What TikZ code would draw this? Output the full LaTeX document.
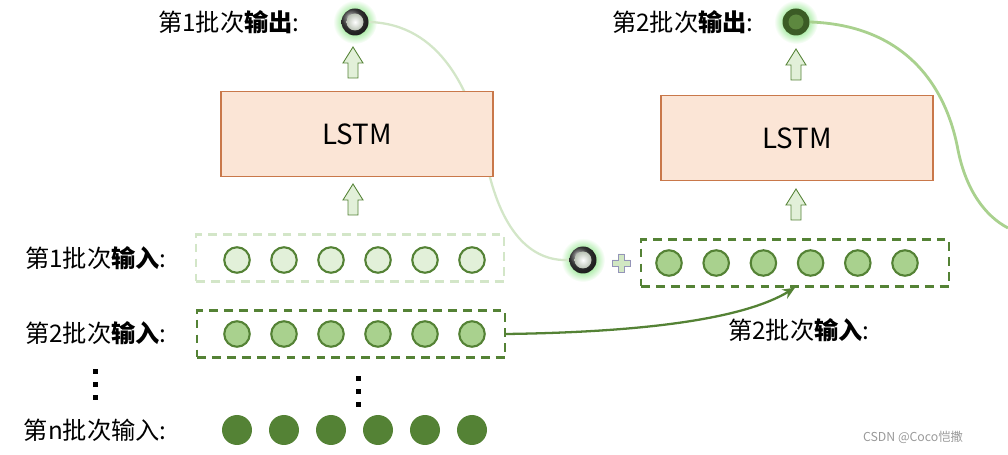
\documentclass[tikz,border=0pt]{standalone}
\usepackage{fontspec}
\setmainfont{Noto Sans CJK SC}
\usetikzlibrary{arrows.meta,positioning,calc}

\definecolor{dkgreen}{HTML}{548235}
\definecolor{mdgreen}{HTML}{A9D18E}
\definecolor{ltgreen}{HTML}{E2F0D9}
\definecolor{palegreen}{HTML}{D3E6C8}
\definecolor{lstmfill}{HTML}{FBE5D6}
\definecolor{lstmline}{HTML}{C9784A}

\tikzset{
  uparrow/.pic={
    \draw[dkgreen,fill=ltgreen,line width=0.5pt]
      (-5,15) -- (-5,0) -- (-10,0) -- (0,-16) -- (10,0) -- (5,0) -- (5,15) -- cycle;
  },
  glow/.pic={
    \shade[inner color=green!60!dkgreen!85, outer color=white] (0,0) circle (0.44cm);
  }
}

\begin{document}
\begin{tikzpicture}[x=0.02cm,y=-0.02cm,
  lbl/.style={font=\fontsize{13.8}{15}\selectfont,inner sep=0pt},
  cellA/.style={circle,draw=dkgreen,line width=1.2pt,fill=ltgreen,minimum size=0.51cm,inner sep=0pt},
  cellB/.style={cellA,fill=mdgreen},
  cellN/.style={circle,fill=dkgreen,minimum size=0.6cm,inner sep=0pt},
  lstm/.style={draw=lstmline,fill=lstmfill,line width=0.8pt,minimum width=5.44cm,minimum height=1.7cm,font=\fontsize{15.8}{18}\selectfont},
  batch/.style={draw=dkgreen,line width=1.4pt,dash pattern=on 5pt off 3.5pt,minimum width=6.16cm,minimum height=0.94cm},
  ball/.style={circle,minimum size=0.54cm,inner sep=0pt}
]
\useasboundingbox (0,0) rectangle (1008,455);

% glow behind output balls
\pic at (355,22) {glow};
\pic at (796,22) {glow};
\pic at (583,260) {glow};

\node[ball] (out1) at (355,22) {};
\node[ball] (out2) at (796,22) {};
\node[ball] (carry) at (583,260) {};
\coordinate (edge) at (1008,228);

% feedback curves
\draw[palegreen,line width=1.3pt] (out1.east) .. controls (440,24) and (472,90) .. (486,160)
  .. controls (500,230) and (530,262) .. (carry.west);
\draw[mdgreen,line width=1.6pt] (out2.east) .. controls (900,25) and (945,80) .. (958,150)
  .. controls (966,190) and (985,216) .. (edge);

% balls
\shade[ball color=gray!55!black] (out1) circle (0.27cm);
\shade[inner color=white,outer color=ltgreen!60!gray] (out1) circle (0.17cm);
\fill[dkgreen!70!black] (out2) circle (0.27cm);
\fill[dkgreen!95!white] (out2) circle (0.15cm);
\shade[ball color=gray!55!black] (carry) circle (0.27cm);
\shade[inner color=white,outer color=ltgreen!60!gray] (carry) circle (0.17cm);

% LSTM cells
\node[lstm] (lstm1) at (357,134) {LSTM};
\node[lstm] (lstm2) at (797,138) {LSTM};
\pic at (353,63) {uparrow};
\pic at (353,200) {uparrow};
\pic at (796,65) {uparrow};
\pic at (796,205) {uparrow};

% labels
\node[lbl,anchor=east] (o1lbl) at (300,22) {第1批次\textbf{输出}:};
\node[lbl,anchor=east] (o2lbl) at (754,22) {第2批次\textbf{输出}:};
\node[lbl,anchor=east] (r1lbl) at (167,258) {第1批次\textbf{输入}:};
\node[lbl,anchor=east] (r2lbl) at (167,333) {第2批次\textbf{输入}:};
\node[lbl,anchor=east] (rnlbl) at (167,430) {第n批次输入:};
\node[lbl] (i2lbl) at (799,330) {第2批次\textbf{输入}:};

% input batches
\node[batch,draw=palegreen] (in1) at (350,258) {};
\node[batch] (in2) at (351,334) {};
\node[batch] (in2r) at (795,263) {};
\foreach \i in {1,...,6} {
  \node[cellA] (a\i) at ({237+47*(\i-1)},260) {};
  \node[cellB] (b\i) at ({237+47*(\i-1)},334) {};
  \node[cellN] (n\i) at ({237+47*(\i-1)},430) {};
  \node[cellB] (c\i) at ({669+47.2*(\i-1)},263) {};
}

% plus
\draw[gray!80!blue!70,fill=ltgreen!70!mdgreen,line width=0.5pt]
  (618,254) -- (624,254) -- (624,260) -- (630,260) -- (630,266) -- (624,266) -- (624,272)
  -- (618,272) -- (618,266) -- (612,266) -- (612,260) -- (618,260) -- cycle;

\draw[dkgreen,line width=1.3pt,-{Stealth[length=7pt,width=6pt]}] (in2.east)
  .. controls (650,332) and (745,318) .. (in2r.south);

% dots
\foreach \y in {372,385,398} \fill (95,\y) +(-2.5,-2.5) rectangle +(2.5,2.5);
\foreach \y in {379,392,405} \fill (358,\y) +(-2.5,-2.5) rectangle +(2.5,2.5);

\node[font=\fontsize{7}{8}\selectfont,text=gray!80] (mark) at (913,437) {CSDN @Coco恺撒};
\end{tikzpicture}
\end{document}
